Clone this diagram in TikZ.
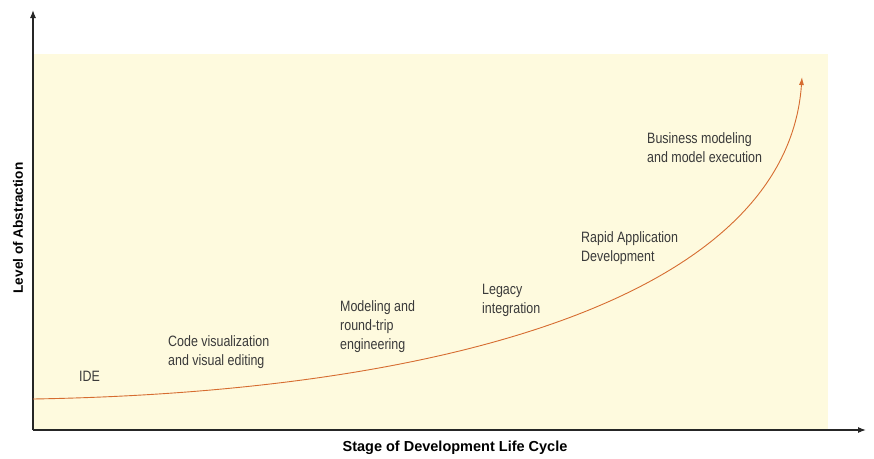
\documentclass[tikz,border=0pt]{standalone}
\usepackage{fontspec}
\setmainfont[FakeStretch=0.83]{Liberation Sans}
\newfontfamily\axisfont{Liberation Sans}
\usepackage{tikz}
\usepackage{xcolor}
\usetikzlibrary{
    arrows.meta,
    calc,
    positioning
}
\definecolor{bgyellow}{RGB}{254,250,222}
\definecolor{curveorange}{RGB}{214,108,48}
\definecolor{labelgray}{RGB}{58,58,58}
\tikzset{axisline/.style={line width=1.2pt, draw=black!85, -{Latex[length=8pt, width=6pt]}}}
\tikzset{growth/.style={line width=0.9pt, draw=curveorange, -{Latex[length=8pt, width=5pt]}}}
\tikzset{stagelbl/.style={anchor=west, align=left, inner sep=0pt, text=labelgray, font=\fontsize{15}{19}\selectfont}}
\tikzset{axislbl/.style={inner sep=0pt, text=black, font=\axisfont\bfseries}}

\begin{document}
\begin{tikzpicture}[x=1pt, y=-1pt]
                        \useasboundingbox (0, 0) rectangle (874, 458);

                        \fill[bgyellow] (33, 54) rectangle (828, 430);

                        \coordinate (o) at (33, 430);
                        \coordinate (ytop) at (33, 10);
                        \coordinate (xend) at (866, 430);
                        \coordinate (cstart) at (33, 399);
                        \coordinate (cend) at (802, 77);

                        \draw
                        (o) edge[axisline] (ytop)
                        (o) edge[axisline] (xend);

                        \draw[growth] (cstart) .. controls (450, 392) and (787, 295) .. (cend);

                        \node[stagelbl] (ide) at (79, 376) {IDE};
                        \node[stagelbl] (codevis) at (168, 352) {Code visualization\\and visual editing};
                        \node[stagelbl] (rtrip) at (340, 327) {Modeling and\\round-trip\\engineering};
                        \node[stagelbl] (legacy) at (482, 300) {Legacy\\integration};
                        \node[stagelbl] (rad) at (581, 248) {Rapid Application\\Development};
                        \node[stagelbl] (bizmod) at (647, 148) {Business modeling\\and model execution};

                        \node[axislbl, font=\axisfont\bfseries\fontsize{14.5}{17}\selectfont] (xlbl) at (455, 448) {Stage of Development Life Cycle};
                        \node[axislbl, font=\axisfont\bfseries\fontsize{13.6}{16}\selectfont, rotate=90] (ylbl) at (18, 228) {Level of Abstraction};
                    \end{tikzpicture}
\end{document}
